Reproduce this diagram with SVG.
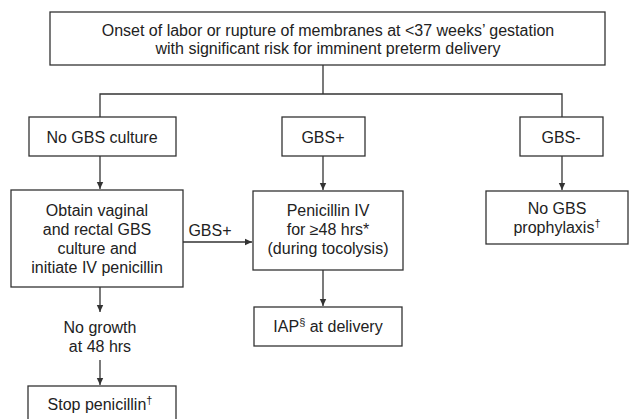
<svg xmlns="http://www.w3.org/2000/svg" width="629" height="419" viewBox="0 0 629 419">
<defs>
<style>
.box{fill:#fff;stroke:#333;stroke-width:1.3}
.ln{fill:none;stroke:#333;stroke-width:1.3}
text{font-family:"Liberation Sans",Arial,sans-serif;font-size:16px;fill:#222;text-anchor:middle}
.sup{font-size:11px}
</style>
<marker id="ah" markerWidth="8" markerHeight="8" refX="7" refY="4" orient="auto" markerUnits="userSpaceOnUse">
<path d="M0,0.8 L7,4 L0,7.2 Z" fill="#333"/>
</marker>
</defs>
<rect width="629" height="419" fill="#fff"/>
<g id="connectors">
<path class="ln" d="M323,65 V94 M100,117 V94 H562 V117"/>
<path class="ln" d="M100,156 V189" marker-end="url(#ah)"/>
<path class="ln" d="M323,156 V190" marker-end="url(#ah)"/>
<path class="ln" d="M562,156 V190" marker-end="url(#ah)"/>
<path class="ln" d="M183,242 H252" marker-end="url(#ah)"/>
<text x="210" y="236">GBS+</text>
<path class="ln" d="M323,270 V306" marker-end="url(#ah)"/>
<path class="ln" d="M100,287 V312" marker-end="url(#ah)"/>
<path class="ln" d="M100,360 V385" marker-end="url(#ah)"/>
</g>
<g id="n-onset">
<rect class="box" x="50" y="12" width="555" height="53"/>
<text x="328" y="36">Onset of labor or rupture of membranes at &lt;37 weeks’ gestation</text>
<text x="328" y="54">with significant risk for imminent preterm delivery</text>
</g>
<g id="n-noculture">
<rect class="box" x="29" y="117" width="147" height="39"/>
<text x="102" y="143">No GBS culture</text>
</g>
<g id="n-gbspos">
<rect class="box" x="282" y="117" width="83" height="39"/>
<text x="323" y="143">GBS+</text>
</g>
<g id="n-gbsneg">
<rect class="box" x="520" y="117" width="83" height="39"/>
<text x="561" y="143">GBS-</text>
</g>
<g id="n-obtain">
<rect class="box" x="11" y="190" width="172" height="97"/>
<text x="97" y="216">Obtain vaginal</text>
<text x="97" y="235">and rectal GBS</text>
<text x="97" y="254">culture and</text>
<text x="97" y="273">initiate IV penicillin</text>
</g>
<g id="n-penicillin">
<rect class="box" x="253" y="191" width="150" height="79"/>
<text x="328" y="216">Penicillin IV</text>
<text x="328" y="235">for ≥48 hrs*</text>
<text x="328" y="254">(during tocolysis)</text>
</g>
<g id="n-noprophylaxis">
<rect class="box" x="486" y="191" width="142" height="53"/>
<text x="557" y="214">No GBS</text>
<text x="557" y="233">prophylaxis<tspan class="sup" dy="-6">†</tspan></text>
</g>
<g id="n-iap">
<rect class="box" x="254" y="307" width="148" height="39"/>
<text x="328" y="332">IAP<tspan class="sup" dy="-6">§</tspan><tspan dy="6"> at delivery</tspan></text>
</g>
<g id="n-nogrowth">
<text x="100" y="333">No growth</text>
<text x="100" y="352">at 48 hrs</text>
</g>
<g id="n-stop">
<rect class="box" x="28" y="386" width="148" height="40"/>
<text x="100" y="410">Stop penicillin<tspan class="sup" dy="-6">†</tspan></text>
</g>
</svg>
